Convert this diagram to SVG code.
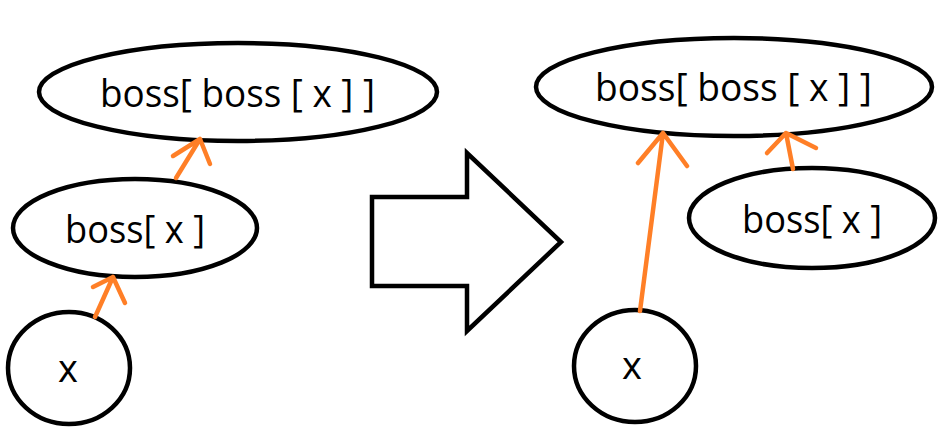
<svg xmlns="http://www.w3.org/2000/svg" width="940" height="440" viewBox="0 0 940 440">
<style>
.node{fill:#fff;stroke:#000;stroke-width:4.5}
.lbl{font-family:"Open Sans","Noto Sans",sans-serif;font-size:38px;fill:#000}
.edge{fill:none;stroke:#ff7f27;stroke-width:4.5;stroke-linecap:round;stroke-linejoin:round}
</style>
<rect width="940" height="440" fill="#fff"/>
<g id="left-top"><ellipse class="node" cx="238" cy="92" rx="199" ry="49"/><text class="lbl" x="100" y="107" textLength="275" lengthAdjust="spacingAndGlyphs">boss[ boss [ x ] ]</text></g>
<g id="left-mid"><ellipse class="node" cx="135" cy="228" rx="122" ry="49"/><text class="lbl" x="65" y="243" textLength="140" lengthAdjust="spacingAndGlyphs">boss[ x ]</text></g>
<g id="left-x"><ellipse class="node" cx="69" cy="368" rx="61" ry="56"/><text class="lbl" x="68" y="382" text-anchor="middle">x</text></g>
<g id="big-arrow"><polygon class="node" points="372,197 467,197 467,153 561,242 467,331 467,286 372,286"/></g>
<g id="right-top"><ellipse class="node" cx="734" cy="87" rx="198" ry="49"/><text class="lbl" x="595" y="101" textLength="277" lengthAdjust="spacingAndGlyphs">boss[ boss [ x ] ]</text></g>
<g id="right-mid"><ellipse class="node" cx="812" cy="218" rx="123" ry="50"/><text class="lbl" x="742" y="233" textLength="140" lengthAdjust="spacingAndGlyphs">boss[ x ]</text></g>
<g id="right-x"><ellipse class="node" cx="635" cy="366" rx="61" ry="56"/><text class="lbl" x="632" y="379" text-anchor="middle">x</text></g>
<g id="connectors">
<path class="edge" d="M95,317 L113,277 M93,287 L113,277 L125,303"/>
<path class="edge" d="M176,178 L200,139 M173,156 L200,139 L210,164"/>
<path class="edge" d="M640,311 L663,133 M638,163 L663,133 L687,166"/>
<path class="edge" d="M793,169 L786,133 M767,153 L786,133 L816,148"/>
</g>
</svg>
